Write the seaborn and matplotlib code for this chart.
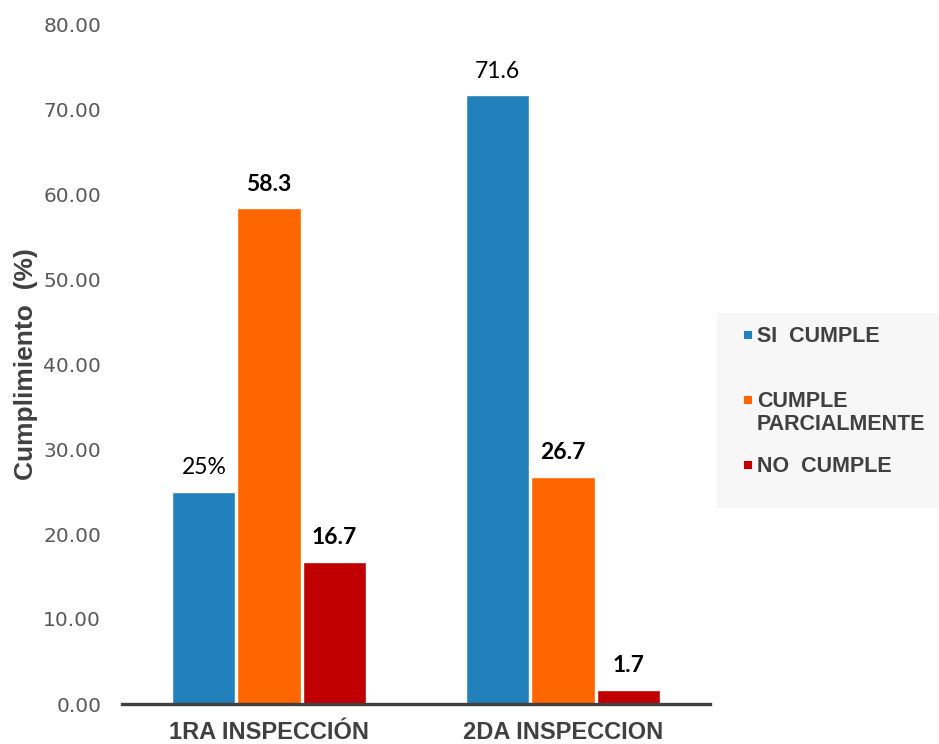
import matplotlib
matplotlib.use("Agg")
import matplotlib.pyplot as plt
from matplotlib.patches import Rectangle
import seaborn as sns
import pandas as pd

# Data
inspecciones = ["1RA INSPECCIÓN", "2DA INSPECCION"]
niveles = ["SI CUMPLE", "CUMPLE PARCIALMENTE", "NO CUMPLE"]
si_cumple = [25.0, 71.6]
cumple_parcial = [58.3, 26.7]
no_cumple = [16.7, 1.7]
etiquetas = {
    "SI CUMPLE": ["25%", "71.6"],
    "CUMPLE PARCIALMENTE": ["58.3", "26.7"],
    "NO CUMPLE": ["16.7", "1.7"],
}
negrita = {
    "SI CUMPLE": [False, False],
    "CUMPLE PARCIALMENTE": [True, True],
    "NO CUMPLE": [True, True],
}
legend_labels = ["SI  CUMPLE", "CUMPLE\nPARCIALMENTE", "NO  CUMPLE"]
yticks = [0, 10, 20, 30, 40, 50, 60, 70, 80]

colores = ["#2280BB", "#FF6600", "#C00000"]

df = pd.DataFrame({
    "inspeccion": inspecciones * 3,
    "nivel": [n for n in niveles for _ in inspecciones],
    "valor": si_cumple + cumple_parcial + no_cumple,
})

sns.set_theme(style="white")
plt.rcParams["font.family"] = ["Liberation Sans", "DejaVu Sans"]

fig = plt.figure(figsize=(9.39, 7.44), dpi=100)
ax = fig.add_axes([122 / 939, 1 - 704 / 744, 588 / 939, 680 / 744])

sns.barplot(data=df, x="inspeccion", y="valor", hue="nivel",
            order=inspecciones, hue_order=niveles, palette=colores,
            width=0.665, gap=0.03, saturation=1, legend=False, ax=ax)

ax.set_xlim(-0.5, 1.5)
ax.set_ylim(0, 80)
ax.set_yticks(yticks)
ax.set_yticklabels([f"{v:.2f}" for v in yticks], fontsize=14.5,
                   color="#595959", family="DejaVu Sans")
ax.tick_params(axis="y", length=0, pad=15)
ax.tick_params(axis="x", length=0, pad=12)
for lbl in ax.get_xticklabels():
    lbl.set_fontsize(17)
    lbl.set_fontweight("bold")
    lbl.set_color("#404040")
ax.set_xlabel("")
ax.set_ylabel("Cumplimiento  (%)", fontsize=19, fontweight="bold",
              color="#404040", labelpad=4,
              family=["Liberation Sans Narrow", "Liberation Sans"])

for side in ["top", "right", "left"]:
    ax.spines[side].set_visible(False)
ax.spines["bottom"].set_color("#404040")
ax.spines["bottom"].set_linewidth(2.4)

# Value labels above each bar
for cont, nivel in zip(ax.containers, niveles):
    for bar, txt, bold in zip(cont, etiquetas[nivel], negrita[nivel]):
        ax.annotate(txt, (bar.get_x() + bar.get_width() / 2, bar.get_height()),
                    xytext=(0, 10), textcoords="offset points",
                    ha="center", va="bottom", fontsize=16.5,
                    fontweight="bold" if bold else "normal",
                    color="black", family=["Lato", "DejaVu Sans"])

# Legend panel
fig.patches.append(Rectangle((717 / 939, 1 - 508 / 744), 222 / 939, 195 / 744,
                             transform=fig.transFigure, facecolor="#F7F7F7",
                             edgecolor="none", zorder=0))
legend_rows = [334, 399, 464]
for sq_y, lab, col in zip(legend_rows, legend_labels, colores):
    fig.patches.append(Rectangle((743 / 939, 1 - (sq_y + 5) / 744), 9 / 939, 9 / 744,
                                 transform=fig.transFigure, facecolor=col,
                                 edgecolor="white", linewidth=0.6, zorder=2))
    fig.text(757 / 939, 1 - (sq_y - 8) / 744, lab, ha="left", va="top",
             fontsize=15.5, fontweight="bold", color="#404040",
             linespacing=1.1)

fig.savefig("out.png", dpi=100)
